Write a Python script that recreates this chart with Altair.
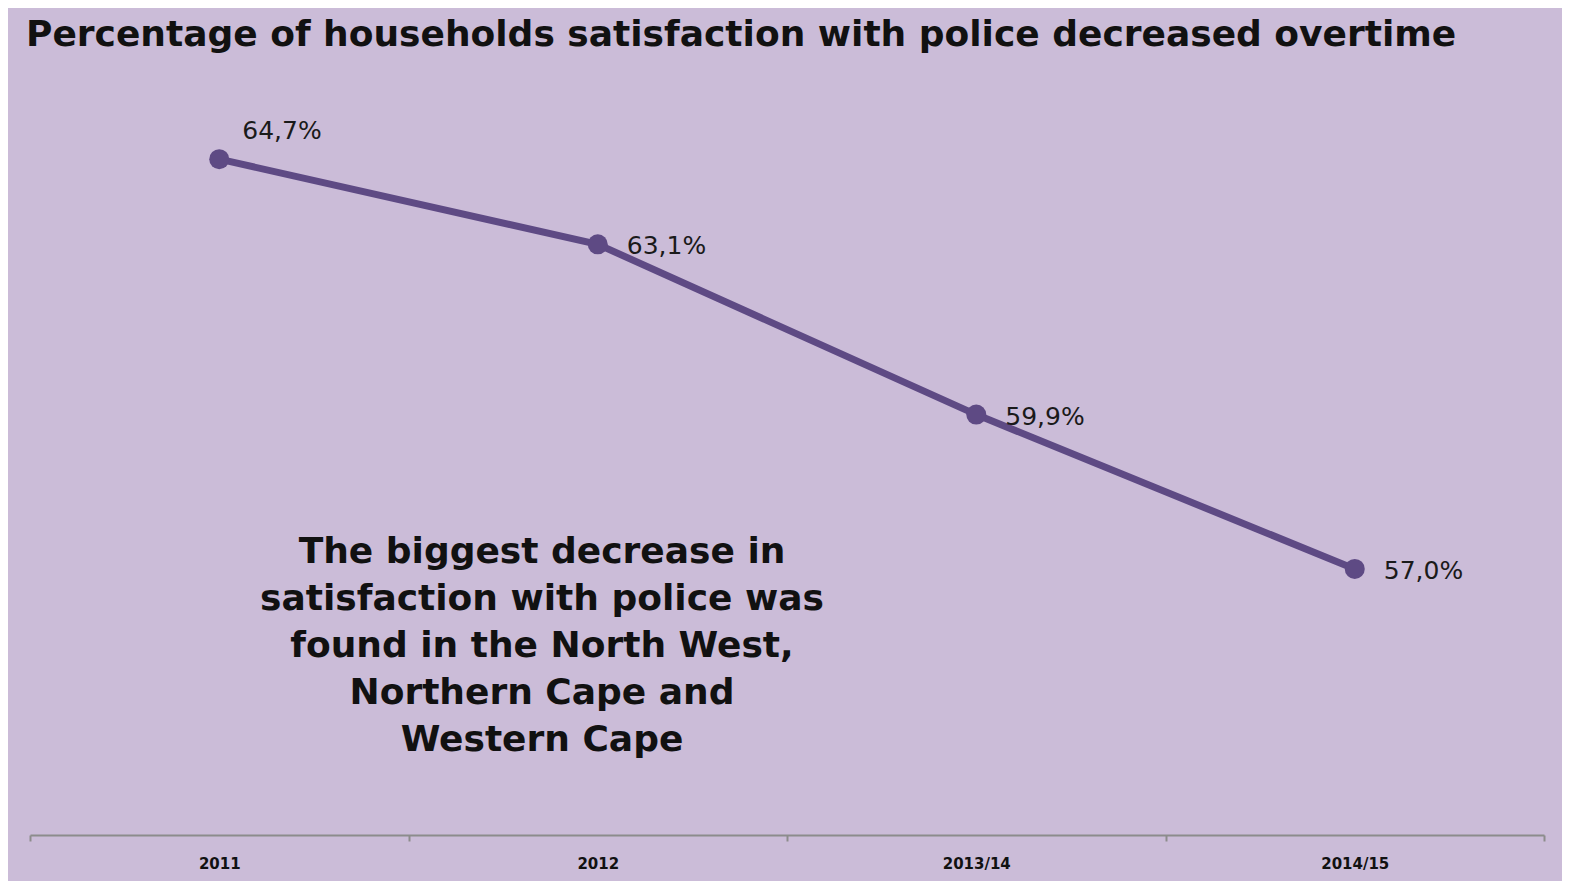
import altair as alt
import pandas as pd

years = ["2011", "2012", "2013/14", "2014/15"]
satisfaction = [64.7, 63.1, 59.9, 57.0]
title_text = "Percentage of households satisfaction with police decreased overtime"
note_lines = [
    "The biggest decrease in",
    "satisfaction with police was",
    "found in the North West,",
    "Northern Cape and",
    "Western Cape",
]

df = pd.DataFrame({"year": years, "value": satisfaction})

BG = "#CBBCD8"
PURPLE = "#5E4A84"

x_enc = alt.X(
    "year:N",
    sort=years,
    scale=alt.Scale(type="band", paddingInner=0, paddingOuter=0),
    axis=alt.Axis(
        title=None,
        labelAngle=0,
        tickBand="extent",
        domainColor="#8C8C8C",
        domainWidth=2,
        tickColor="#8C8C8C",
        tickWidth=2,
        tickSize=6,
        labelPadding=15,
        labelFont="DejaVu Sans",
        labelFontWeight="bold",
        labelFontSize=15,
        labelColor="#111111",
        grid=False,
    ),
)
y_enc = alt.Y("value:Q", scale=alt.Scale(domain=[52, 66]), axis=None)

base = alt.Chart(df).encode(x=x_enc, y=y_enc)

line = base.mark_line(color=PURPLE, strokeWidth=7)
points = base.mark_circle(color=PURPLE, size=400, opacity=1)

labelled = base.transform_calculate(
    lab="replace(format(datum.value, '.1f'), '.', ',') + '%'"
)
label_first = labelled.transform_filter(alt.datum.year == years[0]).mark_text(
    align="left", baseline="middle", dx=23, dy=-28,
    font="DejaVu Sans", fontSize=25, color="#1a1a1a"
).encode(text="lab:N")
label_rest = labelled.transform_filter(alt.datum.year != years[0]).mark_text(
    align="left", baseline="middle", dx=29, dy=2,
    font="DejaVu Sans", fontSize=25, color="#1a1a1a"
).encode(text="lab:N")

note = alt.Chart(pd.DataFrame({"t": ["\n".join(note_lines)]})).mark_text(
    align="center", baseline="middle", lineBreak="\n", lineHeight=47,
    font="DejaVu Sans", fontWeight="bold", fontSize=36, color="#111111"
).encode(x=alt.value(512), y=alt.value(462), text="t:N")

chart = (
    alt.layer(line, points, label_first, label_rest, note)
    .properties(
        width=1514,
        height=745,
        title=alt.TitleParams(
            text=title_text,
            anchor="start",
            font="DejaVu Sans",
            fontWeight="bold",
            fontSize=36,
            color="#111111",
            baseline="alphabetic",
            offset=8,
            dx=-3,
        ),
        autosize=alt.AutoSizeParams(type="none"),
        padding={"left": 22, "top": 82, "right": 18, "bottom": 46},
        background=BG,
    )
    .configure_view(stroke=None)
)

chart.save("out.html", embed_options={"renderer": "svg", "actions": False})
